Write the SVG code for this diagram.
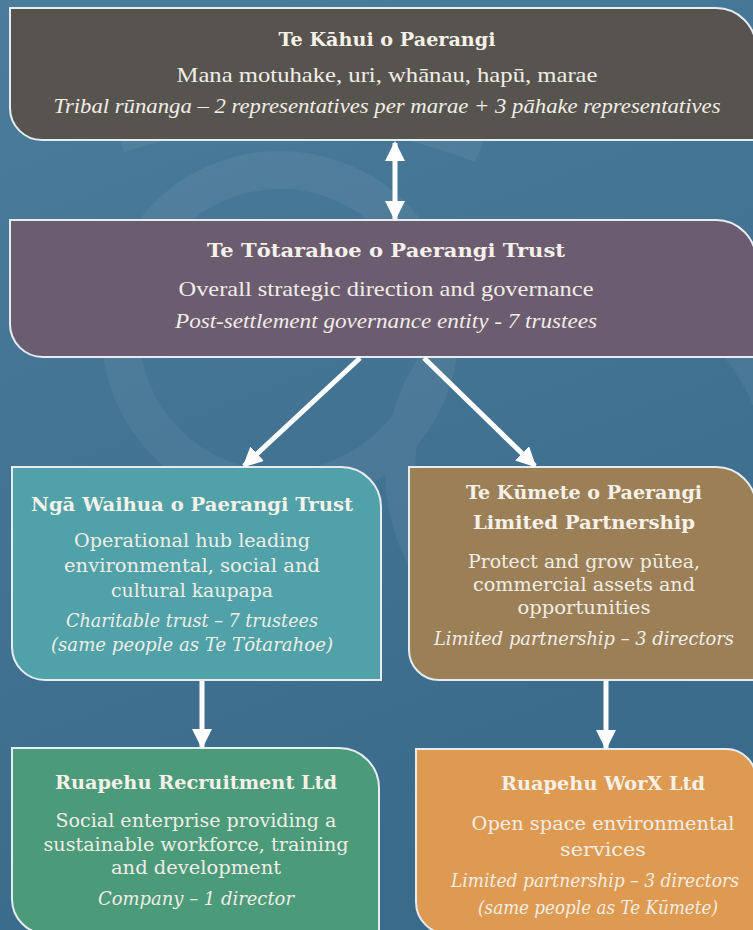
<svg xmlns="http://www.w3.org/2000/svg" width="753" height="930" viewBox="0 0 753 930">
  <defs>
    <linearGradient id="bg" x1="0" y1="0" x2="0.3" y2="1">
      <stop offset="0" stop-color="#4a7c9b"/>
      <stop offset="1" stop-color="#3b6b8b"/>
    </linearGradient>
    <marker id="head" markerUnits="userSpaceOnUse" markerWidth="22" markerHeight="22" refX="18" refY="10" orient="auto">
      <path d="M0,0 L20,10 L0,20 Z" fill="#ffffff"/>
    </marker>
    <marker id="headStart" markerUnits="userSpaceOnUse" markerWidth="22" markerHeight="22" refX="2" refY="10" orient="auto">
      <path d="M20,0 L0,10 L20,20 Z" fill="#ffffff"/>
    </marker>
    <style>
      .box { stroke: #e6ecef; stroke-width: 2; }
      .title { font-family: "DejaVu Serif", "Liberation Serif", serif; font-weight: bold; font-size: 19px; fill: #f6f1e8; text-anchor: middle; }
      .body { font-family: "DejaVu Serif", "Liberation Serif", serif; font-size: 18px; fill: #f1ede6; text-anchor: middle; }
      .ital { font-family: "DejaVu Serif", "Liberation Serif", serif; font-style: italic; font-size: 18px; fill: #f1ede6; text-anchor: middle; }
      .tbody { font-family: "Liberation Serif", serif; font-size: 22px; fill: #f1ede6; text-anchor: middle; }
      .tital { font-family: "Liberation Serif", serif; font-style: italic; font-size: 22px; fill: #f1ede6; text-anchor: middle; }
      .link { stroke: #ffffff; stroke-width: 5; fill: none; }
      .deco { fill: none; stroke: #ffffff; }
    </style>
  </defs>

  <!-- backdrop -->
  <rect x="0" y="0" width="753" height="930" fill="url(#bg)"/>
  <g id="backdrop-motif" opacity="0.05">
    <circle class="deco" cx="280" cy="330" r="160" stroke-width="38"/>
    <circle class="deco" cx="590" cy="470" r="190" stroke-width="30"/>
    <path class="deco" d="M120,140 Q300,80 480,150" stroke-width="26"/>
  </g>

  <!-- governance tier -->
  <g id="te-kahui">
    <path class="box" fill="#57544f" d="M10,8 H716 A40,40 0 0 1 756,48 V140 H42 A32,32 0 0 1 10,108 Z"/>
    <text class="title" x="387" y="46" textLength="217" lengthAdjust="spacingAndGlyphs">Te Kāhui o Paerangi</text>
    <text class="tbody" x="387" y="82" textLength="421" lengthAdjust="spacingAndGlyphs">Mana motuhake, uri, whānau, hapū, marae</text>
    <text class="tital" x="387" y="113" textLength="667" lengthAdjust="spacingAndGlyphs">Tribal rūnanga – 2 representatives per marae + 3 pāhake representatives</text>
  </g>

  <g id="te-totarahoe">
    <path class="box" fill="#6c5c70" d="M10,220 H716 A40,40 0 0 1 756,260 V357 H43 A33,33 0 0 1 10,324 Z"/>
    <text class="title" x="386" y="257" textLength="358" lengthAdjust="spacingAndGlyphs">Te Tōtarahoe o Paerangi Trust</text>
    <text class="tbody" x="386" y="296" textLength="415" lengthAdjust="spacingAndGlyphs">Overall strategic direction and governance</text>
    <text class="tital" x="386" y="328" textLength="422" lengthAdjust="spacingAndGlyphs">Post-settlement governance entity - 7 trustees</text>
  </g>

  <!-- operating tier -->
  <g id="nga-waihua">
    <path class="box" fill="#50a2a8" d="M12,467 H341 A40,40 0 0 1 381,507 V680 H45 A33,33 0 0 1 12,647 Z"/>
    <text class="title" x="192" y="511" textLength="322" lengthAdjust="spacingAndGlyphs">Ngā Waihua o Paerangi Trust</text>
    <text class="body" x="192" y="547" textLength="236" lengthAdjust="spacingAndGlyphs">Operational hub leading</text>
    <text class="body" x="192" y="572" textLength="256" lengthAdjust="spacingAndGlyphs">environmental, social and</text>
    <text class="body" x="192" y="597" textLength="162" lengthAdjust="spacingAndGlyphs">cultural kaupapa</text>
    <text class="ital" x="192" y="627" textLength="252" lengthAdjust="spacingAndGlyphs">Charitable trust – 7 trustees</text>
    <text class="ital" x="192" y="651" textLength="282" lengthAdjust="spacingAndGlyphs">(same people as Te Tōtarahoe)</text>
  </g>

  <g id="te-kumete">
    <path class="box" fill="#9b8057" d="M409,467 H716 A40,40 0 0 1 756,507 V680 H439 A30,30 0 0 1 409,650 Z"/>
    <text class="title" x="584" y="499" textLength="236" lengthAdjust="spacingAndGlyphs">Te Kūmete o Paerangi</text>
    <text class="title" x="584" y="529" textLength="222" lengthAdjust="spacingAndGlyphs">Limited Partnership</text>
    <text class="body" x="584" y="568" textLength="232" lengthAdjust="spacingAndGlyphs">Protect and grow pūtea,</text>
    <text class="body" x="584" y="591" textLength="222" lengthAdjust="spacingAndGlyphs">commercial assets and</text>
    <text class="body" x="584" y="614" textLength="133" lengthAdjust="spacingAndGlyphs">opportunities</text>
    <text class="ital" x="584" y="645" textLength="300" lengthAdjust="spacingAndGlyphs">Limited partnership – 3 directors</text>
  </g>

  <!-- enterprise tier -->
  <g id="ruapehu-recruitment">
    <path class="box" fill="#4b9a7a" d="M12,748 H339 A40,40 0 0 1 379,788 V934 H47 A35,35 0 0 1 12,899 Z"/>
    <text class="title" x="196" y="789" textLength="282" lengthAdjust="spacingAndGlyphs">Ruapehu Recruitment Ltd</text>
    <text class="body" x="196" y="827" textLength="281" lengthAdjust="spacingAndGlyphs">Social enterprise providing a</text>
    <text class="body" x="196" y="851" textLength="305" lengthAdjust="spacingAndGlyphs">sustainable workforce, training</text>
    <text class="body" x="196" y="874" textLength="170" lengthAdjust="spacingAndGlyphs">and development</text>
    <text class="ital" x="196" y="905" textLength="196" lengthAdjust="spacingAndGlyphs">Company – 1 director</text>
  </g>

  <g id="ruapehu-worx">
    <path class="box" fill="#dd9a50" d="M416,749 H726 A30,30 0 0 1 756,779 V934 H448 A32,32 0 0 1 416,902 Z"/>
    <text class="title" x="603" y="790" textLength="204" lengthAdjust="spacingAndGlyphs">Ruapehu WorX Ltd</text>
    <text class="body" x="603" y="830" textLength="263" lengthAdjust="spacingAndGlyphs" fill="#fbeedd">Open space environmental</text>
    <text class="body" x="603" y="856" textLength="86" lengthAdjust="spacingAndGlyphs" fill="#fbeedd">services</text>
    <text class="ital" x="595" y="887" textLength="288" lengthAdjust="spacingAndGlyphs" fill="#fbeedd">Limited partnership – 3 directors</text>
    <text class="ital" x="598" y="914" textLength="240" lengthAdjust="spacingAndGlyphs" fill="#fbeedd">(same people as Te Kūmete)</text>
  </g>

  <!-- connectors -->
  <g id="connectors">
    <line class="link" x1="395" y1="143" x2="395" y2="219" marker-start="url(#headStart)" marker-end="url(#head)"/>
    <line class="link" x1="360" y1="358" x2="244" y2="466" marker-end="url(#head)"/>
    <line class="link" x1="424" y1="358" x2="535" y2="466" marker-end="url(#head)"/>
    <line class="link" x1="202" y1="681" x2="202" y2="747" marker-end="url(#head)"/>
    <line class="link" x1="606" y1="681" x2="606" y2="748" marker-end="url(#head)"/>
  </g>
</svg>
